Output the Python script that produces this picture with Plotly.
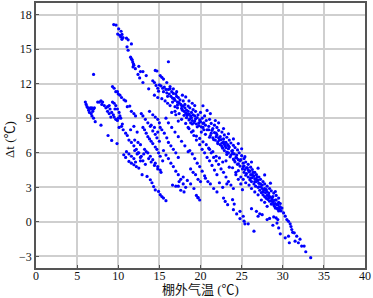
import plotly.graph_objects as go

top_streak = [(9.45,17.13),(9.73,17.08),(10.05,16.76),(10.34,16.55),(9.93,16.3),(10.18,16.2),(10.46,16.27),(10.58,16.0),(10.3,16.05),(10.45,15.85),(11.0,15.95),(11.2,15.8),(11.6,15.45),(11.07,15.2),(11.2,14.9),(11.5,14.3),(11.6,14.15),(11.7,14.07),(11.76,13.87),(11.85,13.7),(11.9,13.6),(11.8,13.45),(12.08,13.3),(12.5,13.5),(12.7,13.05),(13.0,13.05),(12.4,12.8),(12.6,12.5),(13.0,12.1),(13.4,12.7),(13.7,11.55),(14.5,13.15),(14.7,13.1),(16.1,13.9),(7.0,12.8),(14.2,12.25),(14.4,12.1),(14.6,11.85),(14.8,11.6),(14.9,11.35),(14.4,11.0),(14.8,10.8)]

band_edge = [(15.1,12.7),(15.3,12.55),(15.5,12.4),(15.9,12.1),(16.3,11.75),(16.7,11.55),(17.1,11.3),(17.8,11.0),(18.2,10.85),(18.6,10.5),(19.0,10.3),(19.3,10.1),(20.3,10.08),(20.8,9.68),(21.2,9.4),(21.8,8.8),(22.2,8.6),(22.8,8.1),(23.4,7.65),(24.0,7.2),(24.6,6.8),(25.0,6.35),(25.4,5.66),(26.2,5.2),(27.0,4.66),(27.8,4.08),(28.5,3.36),(29.1,2.64),(29.5,2.07),(29.7,1.6),(29.9,1.2),(30.1,0.78),(30.3,0.5),(30.5,0.2),(30.7,0.05),(30.9,-0.17)]

band_a = [(15.0,11.9),(15.4,11.6),(15.6,11.7),(15.9,11.2),(16.1,11.5),(16.4,10.9),(16.5,11.3),(16.8,10.7),(17.0,11.1),(17.2,10.4),(17.3,10.8),(17.5,10.6),(17.7,10.1),(17.9,10.5),(18.1,10.2),(18.3,9.7),(18.5,10.05),(18.7,9.9),(18.9,9.5),(19.1,9.75),(19.3,9.2),(19.4,9.6),(19.7,9.3),(19.9,8.85),(20.0,9.5),(20.2,9.0),(20.4,8.6),(20.5,9.2),(20.7,8.8),(21.0,8.3),(21.1,8.9),(21.3,8.55),(21.5,8.1),(21.7,8.4),(21.9,7.7),(22.0,8.2),(22.2,7.95),(22.4,7.4),(22.6,7.8),(22.8,7.2),(22.9,7.55),(23.1,6.9),(23.2,7.35),(23.4,6.6),(23.5,7.1),(23.7,6.85),(23.9,6.2),(24.0,6.65),(24.2,6.45),(24.4,5.8),(24.5,6.25),(24.7,6.0),(24.9,5.4),(25.0,5.75),(25.2,5.1),(25.3,5.5),(25.5,5.2),(25.6,4.7),(25.8,5.0),(26.0,4.4),(26.1,4.75),(26.3,4.55),(26.5,4.0),(26.6,4.3),(26.8,4.1),(27.0,3.6),(27.1,3.9),(27.3,3.7),(27.5,3.2),(27.6,3.5),(27.8,3.3),(28.0,2.8),(28.1,3.1),(28.3,2.5),(28.4,2.9),(28.6,2.7),(28.8,2.2),(28.9,2.5),(29.1,1.9),(29.2,2.3),(29.3,1.5),(29.5,1.7),(29.6,1.3),(29.4,1.1),(29.8,0.95)]

band_c = [(16.3,10.1),(16.6,10.4),(16.9,9.6),(17.2,9.9),(17.4,9.4),(17.8,9.7),(18.0,9.25),(18.3,9.4),(18.6,8.85),(18.8,9.2),(19.0,8.5),(19.3,8.75),(19.6,8.25),(19.8,8.6),(20.1,7.8),(20.3,8.2),(20.6,7.6),(20.8,8.0),(21.1,7.35),(21.3,7.7),(21.6,7.15),(21.9,7.4),(22.1,6.8),(22.3,7.1),(22.6,6.55),(22.9,6.75),(23.2,6.05),(23.4,6.35),(23.7,5.8),(23.9,5.95),(24.1,5.35),(24.3,5.6),(24.6,5.05),(24.8,5.3),(25.1,4.6),(25.3,4.85),(25.6,4.2),(25.8,4.5),(26.1,3.8),(26.3,4.1),(26.6,3.5),(26.8,3.7),(27.1,3.05),(27.3,3.3),(27.6,2.6),(27.8,2.9),(28.1,2.3),(28.3,2.1),(28.6,1.85),(28.9,1.5),(29.1,1.2)]

band_d = [(17.0,9.3),(17.3,8.75),(17.7,8.9),(18.2,8.55),(18.6,8.1),(19.1,7.9),(19.5,7.45),(19.9,7.25),(20.3,6.95),(20.7,6.7),(21.1,6.3),(21.5,6.1),(21.9,5.7),(22.3,5.55),(22.7,5.2),(23.1,5.3),(23.5,4.75),(23.9,4.7),(24.3,4.3),(24.6,4.45),(24.9,3.9),(25.2,3.7),(25.5,3.4),(25.9,3.2),(26.2,2.9),(26.6,2.6),(27.0,2.35),(27.4,1.9),(27.8,1.7),(28.1,1.35),(16.5,9.5),(16.9,10.0),(15.3,10.7),(15.7,10.5),(16.0,10.3)]

clump_upper = [(15.2,11.8),(15.5,11.3),(15.8,11.5),(16.0,10.9),(16.2,11.1),(16.3,11.55),(16.6,10.75),(16.7,11.15),(16.9,10.55),(17.1,10.9),(17.2,10.15),(17.4,10.35),(17.6,10.2),(17.7,9.85),(17.9,10.05),(18.0,9.6),(18.1,9.9),(18.2,9.45),(18.3,9.05),(18.4,9.25),(18.5,9.6),(18.6,9.35),(18.7,8.95),(18.8,8.6),(18.9,9.05),(19.0,8.8),(19.1,9.3),(19.2,8.6),(19.4,8.95),(19.5,8.5),(19.6,9.05),(19.8,8.35),(20.0,8.7),(20.1,8.25),(20.3,8.55),(20.4,8.0),(20.6,8.4)]

clump_mid = [(21.0,8.0),(21.2,7.5),(21.4,7.95),(21.5,7.3),(21.7,7.75),(21.8,7.1),(22.0,7.55),(22.1,6.95),(22.2,7.3),(22.4,6.7),(22.5,7.15),(22.6,6.85),(22.7,6.4),(22.8,6.95),(22.9,6.2),(23.0,6.6),(23.1,6.45),(23.2,5.85),(23.3,6.7),(23.4,6.0),(23.5,6.5),(23.6,5.65),(23.8,6.15),(24.0,5.45),(24.1,5.9),(24.2,5.2),(24.4,5.55),(24.5,5.0),(24.6,5.4),(24.8,4.85)]

clump_low = [(25.2,4.8),(25.3,4.3),(25.4,4.55),(25.5,4.05),(25.7,4.7),(25.8,3.9),(25.9,4.35),(26.0,3.65),(26.1,4.1),(26.2,3.5),(26.3,3.85),(26.4,4.3),(26.5,3.3),(26.6,3.75),(26.7,3.1),(26.8,3.5),(26.9,3.9),(27.0,3.0),(27.1,3.35),(27.2,2.75),(27.3,3.05),(27.4,2.55),(27.5,2.9),(27.6,2.35),(27.7,2.75),(27.8,2.2),(27.9,2.55),(28.0,2.05),(28.1,2.6),(28.2,1.95),(28.3,2.3),(28.4,1.8),(28.5,2.15),(28.6,1.55),(28.7,2.0),(28.8,1.7),(28.9,1.85),(29.0,1.35),(29.1,1.6),(29.2,1.9),(29.3,1.2),(29.4,1.5),(29.5,0.95),(29.6,1.1),(29.7,1.3)]

left_lines = [(6.0,10.4),(6.1,10.2),(6.2,10.0),(6.3,9.9),(6.4,9.7),(6.6,9.9),(6.7,9.8),(6.8,9.9),(7.0,9.8),(6.5,9.5),(6.7,9.4),(6.9,9.6),(7.1,9.9),(6.8,9.2),(7.0,9.0),(7.2,8.7),(7.9,8.4),(7.5,10.4),(7.7,10.4),(7.9,10.5),(8.1,10.4),(8.0,10.2),(8.3,10.1),(8.5,9.9),(8.7,10.0),(8.9,10.1),(9.0,9.8),(8.7,9.6),(8.9,9.4),(9.2,9.5),(9.4,9.3),(9.5,9.1),(9.1,9.1),(9.7,8.9),(9.9,8.8),(10.0,9.0),(9.6,9.8),(9.3,10.4),(9.5,10.3),(9.7,10.1),(9.9,9.8),(10.1,9.5),(10.2,9.2)]

streak_c = [(9.3,11.75),(9.5,11.6),(9.7,11.3),(9.9,11.3),(10.0,11.1),(10.2,11.0),(10.4,10.8),(10.7,10.6),(10.9,10.5),(11.1,10.0),(11.4,10.05),(11.6,9.6),(11.9,9.4),(12.1,9.2),(10.3,9.0),(10.5,8.5),(10.1,8.2),(10.4,8.3),(10.6,8.0),(10.9,7.7),(11.1,7.5),(11.3,7.1),(11.6,6.9),(11.9,6.6),(12.2,6.3),(12.5,6.0),(12.8,5.7),(11.9,8.3),(11.5,8.0),(12.3,7.8),(12.0,7.1),(12.4,6.9),(12.7,6.7)]

streak_d = [(12.8,9.4),(13.0,9.2),(13.3,8.9),(13.6,8.6),(13.9,8.3),(14.2,7.9),(14.5,7.6),(14.7,7.3),(15.0,7.0),(13.0,8.2),(13.2,8.0),(13.4,7.7),(13.6,7.4),(13.8,7.2),(14.0,7.0),(14.2,6.8),(14.5,6.5),(14.7,6.3),(14.9,6.0),(15.1,5.7),(15.4,5.3),(13.8,9.6),(14.2,9.3),(14.5,9.1),(14.8,8.9),(15.0,8.6),(15.1,8.2),(15.3,8.0),(15.6,7.7),(15.9,7.3),(16.1,6.9),(16.4,6.6),(16.7,6.3),(17.0,6.0),(17.3,5.6),(14.0,8.4),(14.4,8.2),(14.8,7.8),(15.8,9.0),(16.1,8.6),(16.5,8.2),(16.9,7.8),(17.3,7.4),(17.7,7.0),(18.1,6.6),(18.5,6.1)]

lower_edge = [(8.76,7.5),(9.2,7.07),(9.85,6.8),(10.67,5.83),(10.9,5.6),(11.3,5.25),(11.6,5.1),(11.9,4.96),(12.2,4.8),(12.5,4.67),(12.9,4.1),(13.5,3.95),(13.9,3.66),(14.1,3.4),(14.3,3.07),(14.5,2.78),(14.9,2.65),(15.1,2.36),(15.3,2.2),(15.5,2.07),(15.8,1.84)]

mid_lines = [(11.0,6.1),(11.3,5.9),(11.6,5.7),(11.9,5.5),(12.1,5.2),(12.4,6.0),(12.7,5.6),(13.0,5.3),(13.3,5.0),(13.6,6.0),(13.9,5.7),(14.2,5.4),(14.5,5.1),(14.8,4.8),(15.1,4.5),(12.0,6.2),(12.3,5.9),(12.7,5.3),(13.1,5.9),(13.2,6.3),(13.4,6.1),(13.7,5.5),(14.0,5.2),(14.4,4.9),(14.8,4.6),(15.2,4.3),(15.5,6.2),(15.8,5.8),(16.1,5.5),(16.4,5.1),(16.7,4.8),(17.0,4.4),(17.3,4.1),(17.6,3.7),(17.9,3.3),(18.2,3.0),(16.6,3.2),(17.0,3.1),(17.3,3.1),(17.6,2.75),(18.0,2.6),(17.4,3.5),(17.9,3.9),(18.4,3.6),(18.8,3.3),(19.2,2.9),(19.7,2.1),(19.5,2.3)]

mid_right = [(18.5,8.2),(18.9,7.8),(19.2,7.5),(19.5,7.1),(19.9,6.7),(20.2,6.3),(20.5,6.0),(20.8,5.6),(21.1,5.3),(21.4,4.9),(21.7,4.5),(22.0,4.1),(18.7,6.2),(19.0,5.9),(19.3,5.5),(19.6,5.1),(19.9,4.8),(20.2,4.4),(20.5,4.0),(18.8,4.6),(19.1,4.3),(19.4,4.1),(19.7,3.7),(20.0,3.5),(20.6,3.8),(20.9,3.5),(21.2,3.3),(21.6,2.9),(22.0,2.6),(21.0,6.4),(21.3,6.0),(21.6,5.6),(21.9,5.3),(22.2,5.0),(22.5,4.6),(22.8,4.3),(23.1,3.9),(23.4,3.5),(23.7,3.2),(24.0,2.9),(22.3,3.4),(22.7,3.0),(23.2,3.3),(24.3,4.1),(24.6,3.7),(24.9,3.3),(25.1,2.8)]

tail = [(22.8,2.07),(23.0,1.78),(23.3,1.5),(23.9,1.93),(24.1,1.55),(24.0,1.06),(24.4,0.69),(24.8,0.92),(24.8,0.29),(25.2,0.49),(25.3,0.06),(25.4,-0.17),(25.8,-0.17),(26.5,-0.8),(26.2,1.15),(26.8,0.92),(27.0,0.49),(27.2,0.7),(27.5,0.63),(28.1,0.2),(28.4,0.3),(28.8,-0.29),(28.9,0.43),(29.2,0.35),(29.4,0.2),(29.5,-0.52),(29.3,-0.1),(29.7,-1.03),(30.3,-1.38),(30.7,-1.24),(30.8,-1.81),(31.1,-0.66),(31.0,-0.4),(31.2,-0.9),(31.4,-0.95),(31.7,-1.24),(31.5,-1.67),(31.9,-1.81),(32.1,-1.5),(32.3,-2.1),(32.6,-2.1),(32.8,-2.59),(33.4,-3.1),(19.7,2.1),(19.9,1.9)]

groups = [top_streak, band_edge, band_a, band_c, band_d, clump_upper, clump_mid, clump_low,
          left_lines, streak_c, streak_d, lower_edge, mid_lines, mid_right, tail]
x_vals = [p[0] for g in groups for p in g]
y_vals = [p[1] for g in groups for p in g]
x_ticks = [0, 5, 10, 15, 20, 25, 30, 35, 40]
y_ticks = [-3, 0, 3, 6, 9, 12, 15, 18]
x_title = "棚外气温 (℃)"
y_title = "Δt (℃)"

FONT = "Liberation Serif, 'Noto Sans CJK SC', serif"
title_font = dict(size=13, color="#111111", family=FONT)
fig = go.Figure(go.Scatter(x=x_vals, y=y_vals, mode="markers",
                           marker=dict(color="#0000ff", size=3.2, line=dict(width=0)),
                           hoverinfo="skip"))
axis = dict(showgrid=True, gridcolor="#cfcfcf", gridwidth=1.5, zeroline=False, automargin=False,
            showline=True, linecolor="#555555", linewidth=1.5, mirror=True,
            ticks="inside", ticklen=3, tickcolor="#555555", tickwidth=1,
            tickfont=dict(size=12, color="#111111", family=FONT))
fig.update_xaxes(range=[0, 40], tickvals=x_ticks, ticklabelstandoff=-4, **axis)
fig.update_yaxes(range=[-4, 19], tickvals=y_ticks, **axis)
fig.update_layout(width=373, height=298, showlegend=False,
                  paper_bgcolor="white", plot_bgcolor="white",
                  margin=dict(l=36, r=8, t=3, b=30, autoexpand=False),
                  annotations=[
                      dict(text=x_title, xref="paper", yref="paper", x=0.5, y=0, xanchor="center",
                           yanchor="top", yshift=-12, showarrow=False, font=title_font),
                      dict(text=y_title, xref="paper", yref="paper", x=0, y=0.483, xanchor="center",
                           yanchor="middle", xshift=-27, textangle=-90, showarrow=False, font=title_font),
                  ])
fig.write_html("out.html", config=dict(displayModeBar=False),
               post_script="document.body.style.margin='0';document.documentElement.style.overflow='hidden';")
